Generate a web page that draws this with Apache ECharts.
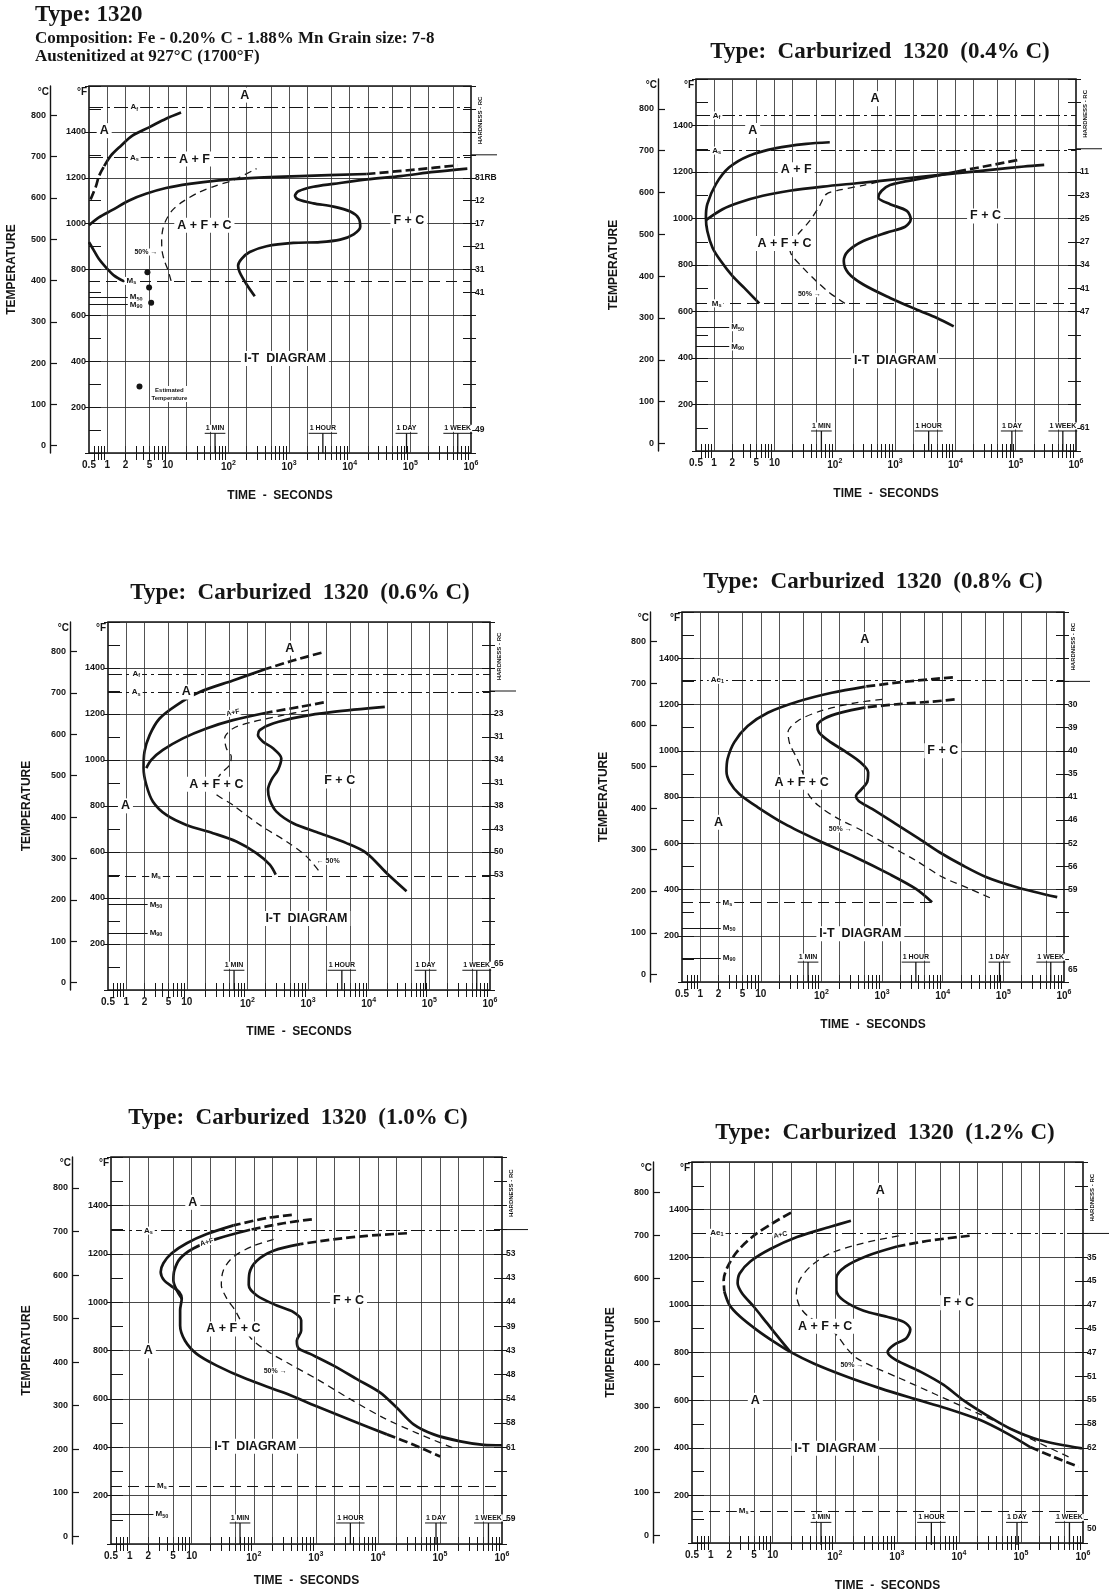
<!DOCTYPE html>
<html>
<head>
<meta charset="utf-8">
<title>Type 1320 I-T diagrams</title>
<script src="https://cdn.jsdelivr.net/npm/echarts@6/dist/echarts.min.js"></script>
<style>
  html, body { margin: 0; padding: 0; background: #fff; }
  #chart { width: 1110px; height: 1593px; }
</style>
</head>
<body>
<div id="chart"></div>
<script>
// ---------- shared axis values ----------
const timeLabelValues = [0.5, 1, 2, 5, 10, 100, 1000, 1e4, 1e5, 1e6];
const timeGridValues = [1, 2, 5, 10, 20, 50, 100, 200, 500, 1000, 2000, 5000, 1e4, 2e4, 5e4, 1e5, 2e5, 5e5];
const celsiusTicks = [0, 100, 200, 300, 400, 500, 600, 700, 800];
const fahrenheitLabels = [200, 400, 600, 800, 1000, 1200, 1400];
const timeMarks = [60, 3600, 86400, 604800];
const timeMarkNames = ['1 MIN', '1 HOUR', '1 DAY', '1 WEEK'];

// ---------- Type 1320 (0.20 % C) ----------  [time s, °C]
const p1Upper = [[0.53,596],[0.65,628],[0.73,653],[0.89,677],[1.14,702],[1.67,726],[2.6,751],[4.9,771],[9.3,792],[16.5,807]];
const p1Start = [[0.5,534],[0.73,553],[1.22,571],[2.3,594],[4.35,610],[9.3,624],[22.7,634],[63,642],[225,648],[1500,653],[19000,658],[130000,669],[600000,679]];
const p1Finish = [[271,362],[198,391],[153,420],[144,436],[163,452],[224,469],[424,483],[1170,491],[3240,493],[6970,499],[11600,512],[14900,530],[14000,551],[10200,567],[5400,579],[2510,587],[1420,596],[1250,605],[1420,616],[2510,627],[5400,634],[19200,645],[68700,653],[245000,663],[870000,671]];
const p1Half = [[11.3,399],[9.9,428],[8.75,448],[8.0,473],[7.9,497],[8.2,522],[9.3,546],[12,571],[17.6,591],[33,614],[63,630],[119,643],[290,671]];
const p1Lower = [[0.5,493],[0.6,473],[0.73,452],[0.95,432],[1.3,412],[1.9,398]];
const p1Crit = [['A_f', 820], ['A_s', 698]];
const p1Ms = 399;
const p1Mpoints = [['M_50', 360], ['M_90', 342]];
const p1HardF = [1200, 1100, 1000, 900, 800, 700, 100];
const p1Hard = ['81RB', '12', '17', '21', '31', '41', '49'];
const p1Regions = [['A',185,849],['A',0.89,763],['A + F',27.5,694],['A + F + C',40,534],['F + C',94500,545],['I-T  DIAGRAM',851,211]];
const p1HalfNote = [4.35, 469];
const p1Estimated = [[4.6,420],[4.9,383],[5.3,346],[3.4,143]];

// ---------- Carburized 1320 (0.4 % C) ----------
const p2Upper = [[82.6,720],[33.7,716],[10.7,706],[3.8,688],[1.78,660],[1.07,620],[0.77,572],[0.73,540],[0.77,508],[0.94,468],[1.29,436],[2.02,400],[3.16,372],[5.6,335]];
const p2Start = [[0.73,534],[1.38,560],[2.61,576],[6.4,592],[17.8,604],[64,614],[230,622],[826,630],[2960,638],[10700,646],[38300,654],[137000,662],[297000,666]];
const p2Finish = [[9380,280],[4945,300],[2297,320],[826,348],[297,380],[167,408],[141,436],[167,460],[297,484],[726,504],[1468,518],[1820,536],[1565,556],[826,572],[527,588],[600,604],[826,618],[2960,634],[10700,650],[38300,665],[113700,678]];
const p2Half = [[147,335],[82.6,360],[49.5,388],[29.7,420],[19,452],[17.8,472],[24.5,500],[38.3,532],[56,568],[72.6,596],[121,606],[297,617],[726,630]];
const p2Crit = [['A_f', 784], ['A_s', 700]];
const p2Ms = 335;
const p2Mpoints = [['M_50', 278], ['M_90', 232]];
const p2HardF = [1200, 1100, 1000, 900, 800, 700, 600, 100];
const p2Hard = ['11', '23', '25', '27', '34', '41', '47', '61'];
const p2Regions = [['A',464,824],['A',4.35,748],['A + F',23,654],['A + F + C',14.7,478],['F + C',31600,544],['I-T  DIAGRAM',1000,198]];
const p2HalfNote = [38, 358];

// ---------- Carburized 1320 (0.6 % C) ----------
const p3Outer = [[1660,797],[565,778],[205,758],[57.7,730],[16.3,702],[6.7,670],[3.55,638],[2.43,598],[2.0,558],[1.93,518],[2.14,478],[2.76,437],[4.58,405],[9.8,381],[27,361],[65.5,341],[140,313],[233,285],[292,261]];
const p3Inner = [[1811,677],[728,666],[205,652],[57.7,634],[21,614],[8.6,590],[4.03,562],[2.59,538],[2.14,518]];
const p3Finish = [[18400,666],[2584,654],[728,642],[263,626],[159,610],[149,598],[180,582],[263,566],[361,542],[319,514],[248,490],[218,466],[233,441],[300,413],[565,385],[1556,361],[4290,337],[9180,313],[19630,265],[42000,221]];
const p3Half = [[998,658],[386,646],[123,630],[57.7,614],[42,590],[44.8,566],[54,546],[50.8,526],[37,506],[30,486],[27,466],[57.7,429],[159,381],[438,341],[937,305],[1660,262]];
const p3Crit = [['A_f', 746], ['A_s', 702]];
const p3Ms = 258;
const p3Mpoints = [['M_50', 189], ['M_90', 120]];
const p3HardF = [1200, 1100, 1000, 900, 800, 700, 600, 500, 115];
const p3Hard = ['23', '31', '34', '31', '38', '43', '50', '53', '65'];
const p3Regions = [['A',498,808],['A',9.8,702],['A',0.97,427],['A + F + C',30.6,479],['F + C',3320,487],['I-T  DIAGRAM',935,155]];
const p3HalfNote = [2140, 293];

// ---------- Carburized 1320 (0.8 % C) ----------
const p4Start = [[14700,714],[6840,710],[1905,702],[531,692],[148,677],[41,656],[13,629],[6.06,597],[3.63,558],[2.82,518],[2.71,488],[3.08,462],[4.4,434],[8.9,402],[24.7,362],[88.7,322],[362,282],[1297,242],[3610,206],[6660,174]];
const p4Finish = [[15700,661],[6840,656],[1905,650],[531,642],[217,630],[114.5,616],[85.3,598],[91,582],[130,562],[246,536],[438,510],[588,486],[565,462],[455,445],[371,429],[411,417],[685,398],[1676,362],[4100,326],[8830,294],[21600,262],[52800,234],[166700,210],[773000,186]];
const p4Half = [[1005,661],[362,653],[100.7,634],[41,610],[28,582],[30,554],[38.6,522],[46.8,494],[54.6,462],[60.4,434],[88.7,406],[191,374],[467,346],[1297,310],[3610,274],[10000,234],[27900,206],[68100,181]];
const p4Crit = [['Ae_1', 708]];
const p4Ms = 173;
const p4Mpoints = [['M_50', 112], ['M_90', 40]];
const p4HardF = [1200, 1100, 1000, 900, 800, 700, 600, 500, 400, 55];
const p4Hard = ['30', '39', '40', '35', '41', '46', '52', '56', '59', '65'];
const p4Regions = [['A',517,805],['A',2.0,366],['A + F + C',46.9,462],['F + C',10000,538],['I-T  DIAGRAM',437,98]];
const p4HalfNote = [204, 350];

// ---------- Carburized 1320 (1.0 % C) ----------
const p5Outer = [[410,738],[162,731],[47,714],[17.5,694],[8.3,673],[4.75,650],[3.49,627],[3.16,607],[3.58,588],[4.75,574],[6.3,561],[6.9,546],[6.5,519],[6.5,484],[7.8,449],[12,419],[25.3,392],[77,361],[301,330],[1175,295],[4055,264],[13970,234],[37600,210],[101000,183]];
const p5Inner = [[862,728],[301,719],[87.3,704],[25.3,683],[10.6,661],[6.5,638],[5.25,611],[5.06,588],[5.73,565],[6.9,546]];
const p5Finish = [[29400,696],[6650,690],[1928,682],[559,671],[208,656],[112,633],[85,604],[83,577],[112,553],[235,530],[436,515],[580,496],[580,472],[494,449],[525,432],[811,419],[1928,392],[4580,361],[10900,330],[20200,295],[37600,257],[79000,234],[213000,218],[506000,210],[1000000,209]];
const p5Half = [[208,682],[98.8,667],[47,642],[32.4,611],[30,577],[36.7,546],[50,519],[87.3,457],[162,426],[385,395],[1038,361],[3580,315],[12340,272],[42600,237],[188000,199]];
const p5Crit = [['A_s', 702]];
const p5Ms = 116;
const p5Mpoints = [['M_50', 51]];
const p5HardF = [1200, 1100, 1000, 900, 800, 700, 600, 500, 400, 105];
const p5Hard = ['53', '43', '44', '39', '43', '48', '54', '58', '61', '59'];
const p5Regions = [['A',10.4,767],['A',2.0,426],['A + F + C',47,476],['F + C',3365,542],['I-T  DIAGRAM',105,207]];
const p5HalfNote = [221, 380];

// ---------- Carburized 1320 (1.2 % C) ----------
const p6Outer = [[19.7,753],[10.4,730],[4.93,699],[2.66,662],[1.88,627],[1.62,596],[1.66,569],[2.02,537],[3.0,510],[5.58,479],[10.4,452],[19.2,428],[45.7,401],[157,370],[542,343],[1866,319],[6420,296],[22100,269],[59500,238],[141000,206],[336000,183],[849000,160]];
const p6Inner = [[182,734],[84.7,720],[24.6,696],[9.15,668],[4.35,639],[2.93,611],[2.72,588],[3.2,565],[4.93,534],[8.1,495],[13.3,456],[19.2,428]];
const p6Finish = [[14900,699],[3460,688],[1005,674],[330,652],[148,627],[106,600],[106,572],[139,548],[292,524],[693,510],[1288,498],[1648,481],[1420,460],[888,444],[711,428],[945,410],[2390,382],[5680,351],[11900,315],[28300,280],[67300,249],[205000,222],[961000,203]];
const p6Half = [[1069,699],[292,682],[84.7,658],[40.3,627],[27.2,596],[24,565],[27.2,534],[37.9,510],[70,488],[108,467],[157,436],[228,413],[423,393],[1137,366],[3920,331],[13500,296],[46500,261],[160000,222],[586000,183]];
const p6Crit = [['Ae_1', 706]];
const p6Ms = 57;
const p6Mpoints = [];
const p6HardF = [1200, 1100, 1000, 900, 800, 700, 600, 500, 400, 60];
const p6Hard = ['35', '45', '47', '45', '47', '51', '55', '58', '62', '50'];
const p6Regions = [['A',542,805],['A + F + C',70,488],['F + C',9900,543],['A',5.24,315],['I-T  DIAGRAM',102,203]];
const p6HalfNote = [189, 397];

// ---------- styling ----------
const INK = '#151515';
const SANS = '"Liberation Sans", Arial, Helvetica, sans-serif';
const SERIF = '"Liberation Serif", "Times New Roman", serif';
const F_MIN = 0, F_MAX = 1600;
const C_MIN = (F_MIN - 32) / 1.8, C_MAX = (F_MAX - 32) / 1.8;

// decade sub-ticks drawn along the top and bottom edges
const timeMinorTicks = [];
for (let d = -1; d <= 5; d++) {
  for (let k = 2; k <= 9; k++) {
    const v = +(k * Math.pow(10, d)).toPrecision(3);
    if (v > 0.5 && v < 1e6) timeMinorTicks.push(v);
  }
}

// layout of each diagram on the page; head/tail = points at either end drawn as a broken line
const panels = [
  { grid: {left: 89, top: 86, width: 382, height: 367}, cOffset: 39, tempGap: 71, timeGap: 37,
    thick: [{d: p1Upper, head: 3}, {d: p1Start, tail: 2}, {d: p1Finish}, {d: p1Lower}], half: p1Half,
    crit: p1Crit, critAt: 2.8, ms: p1Ms, msEnd: 1e6, msAt: 2.5, mPoints: p1Mpoints, mAt: 3.0,
    hardF: p1HardF, hard: p1Hard, regions: p1Regions, halfNote: p1HalfNote, halfText: '50% →', small: [] },
  { grid: {left: 696, top: 79, width: 380, height: 372}, cOffset: 38, tempGap: 76, timeGap: 37,
    title: 'Type:  Carburized  1320  (0.4% C)', titleAt: [880, 52],
    thick: [{d: p2Upper}, {d: p2Start}, {d: p2Finish, tail: 2}], half: p2Half,
    crit: p2Crit, critAt: 1.1, ms: p2Ms, msEnd: 1e6, msAt: 1.1, mPoints: p2Mpoints, mAt: 2.45,
    hardF: p2HardF, hard: p2Hard, regions: p2Regions, halfNote: p2HalfNote, halfText: '50% →', small: [] },
  { grid: {left: 108, top: 622, width: 382, height: 368}, cOffset: 38, tempGap: 75, timeGap: 36,
    title: 'Type:  Carburized  1320  (0.6% C)', titleAt: [300, 593],
    thick: [{d: p3Outer, head: 2}, {d: p3Inner, head: 2}, {d: p3Finish}], half: p3Half,
    crit: p3Crit, critAt: 1.46, ms: p3Ms, msEnd: 1e6, msAt: 3.1, mPoints: p3Mpoints, mAt: 3.1,
    hardF: p3HardF, hard: p3Hard, regions: p3Regions, halfNote: p3HalfNote, halfText: '← 50%',
    small: [['A+F', 57.7, 652, 12]] },
  { grid: {left: 682, top: 612, width: 382, height: 370}, cOffset: 32, tempGap: 72, timeGap: 37,
    title: 'Type:  Carburized  1320  (0.8% C)', titleAt: [873, 582],
    thick: [{d: p4Start, head: 3}, {d: p4Finish, head: 3}], half: p4Half,
    crit: p4Crit, critAt: 1.92, ms: p4Ms, msEnd: 6660, msAt: 2.8, mPoints: p4Mpoints, mAt: 3.0,
    hardF: p4HardF, hard: p4Hard, regions: p4Regions, halfNote: p4HalfNote, halfText: '50% →', small: [] },
  { grid: {left: 111, top: 1157, width: 391, height: 387}, cOffset: 39, tempGap: 78, timeGap: 31,
    title: 'Type:  Carburized  1320  (1.0% C)', titleAt: [298, 1118],
    thick: [{d: p5Outer, head: 2, tail: 2}, {d: p5Inner, head: 2}, {d: p5Finish, head: 3}], half: p5Half,
    crit: p5Crit, critAt: 2.0, ms: p5Ms, msEnd: 1e6, msAt: 3.3, mPoints: p5Mpoints, mAt: 3.3,
    hardF: p5HardF, hard: p5Hard, regions: p5Regions, halfNote: p5HalfNote, halfText: '50% →',
    small: [['A+F', 17.5, 675, 15]] },
  { grid: {left: 692, top: 1162, width: 391, height: 383}, cOffset: 39, tempGap: 75, timeGap: 37,
    title: 'Type:  Carburized  1320  (1.2% C)', titleAt: [885, 1133],
    thick: [{d: p6Outer, head: 6, tail: 2}, {d: p6Inner}, {d: p6Finish, head: 2}], half: p6Half,
    crit: p6Crit, critAt: 1.26, ms: p6Ms, msEnd: 1e6, msAt: 3.4, mPoints: p6Mpoints, mAt: 3.4,
    hardF: p6HardF, hard: p6Hard, regions: p6Regions, halfNote: p6HalfNote, halfText: '50% →',
    small: [['A+C', 13.3, 701, 12]] }
];

function subscripted(s) {
  const k = s.indexOf('_');
  return k < 0 ? '{m|' + s + '}' : '{m|' + s.slice(0, k) + '}{s|' + s.slice(k + 1) + '}';
}
const subRich = {
  m: {fontFamily: SANS, fontWeight: 'bold', fontSize: 8, lineHeight: 8, color: INK},
  s: {fontFamily: SANS, fontWeight: 'bold', fontSize: 5.5, lineHeight: 8, color: INK, padding: [4, 0, 0, 0]}
};
// plain black text, no automatic outline around labels
const noOutline = {textBorderWidth: 0, textBorderColor: 'transparent', textShadowBlur: 0, opacity: 1};

function timeLabel(v) {
  if (v < 100) return '{n|' + v + '}';
  return '{n|10}{p|' + Math.round(Math.log10(v)) + '}';
}

const option = {
  backgroundColor: '#fff',
  animation: false,
  grid: [], xAxis: [], yAxis: [], series: []
};

function textSeries(ax, data, label) {
  return Object.assign({
    type: 'scatter', symbolSize: 0, silent: true, z: 6,
    itemStyle: {opacity: 1, color: INK},
    data: data,
    label: Object.assign({show: true, position: 'inside', color: INK, backgroundColor: '#fff'}, label, noOutline)
  }, ax);
}

panels.forEach((p, i) => {
  option.grid.push(Object.assign({show: true, borderColor: INK, borderWidth: 1.6}, p.grid));

  const xi = option.xAxis.length;
  option.xAxis.push({
    type: 'log', logBase: 10, gridIndex: i, min: 0.5, max: 1e6, position: 'bottom',
    axisLine: {show: false},
    axisTick: {show: true, inside: true, length: 7, customValues: timeMinorTicks, lineStyle: {color: INK, width: 1}},
    axisLabel: {customValues: timeLabelValues, formatter: timeLabel, margin: 7, showMinLabel: true, showMaxLabel: true,
      hideOverlap: false,
      rich: {n: {fontFamily: SANS, fontWeight: 'bold', fontSize: 10, color: INK},
             p: {fontFamily: SANS, fontWeight: 'bold', fontSize: 7, color: INK, padding: [0, 0, 7, 0]}}},
    splitLine: {show: false},
    name: 'TIME  -  SECONDS', nameLocation: 'middle', nameGap: p.timeGap,
    nameTextStyle: {fontFamily: SANS, fontSize: 12, fontWeight: 'bold', color: INK}
  });
  option.xAxis.push({
    type: 'log', logBase: 10, gridIndex: i, min: 0.5, max: 1e6, position: 'top',
    axisLine: {show: false},
    axisTick: {show: true, inside: true, length: 7, customValues: timeMinorTicks, lineStyle: {color: INK, width: 1}},
    axisLabel: {show: false}, splitLine: {show: false}
  });

  // °F scale with the 200 °F grid
  option.yAxis.push({
    type: 'value', gridIndex: i, min: F_MIN, max: F_MAX, interval: 200, position: 'left',
    axisLine: {show: false},
    axisTick: {show: true, length: 4, lineStyle: {color: INK, width: 1}},
    axisLabel: {customValues: fahrenheitLabels, formatter: v => String(v), margin: 3,
                fontFamily: SANS, fontWeight: 'bold', fontSize: 9, color: INK},
    splitLine: {show: true, lineStyle: {color: '#333', width: 0.9}},
    name: '°F', nameLocation: 'end', nameGap: -6,
    nameTextStyle: {fontFamily: SANS, fontWeight: 'bold', fontSize: 10, color: INK, align: 'right', verticalAlign: 'middle', padding: [0, 2, 0, 0]}
  });
  // 100 °F inner ticks, left edge
  option.yAxis.push({
    type: 'value', gridIndex: i, min: F_MIN, max: F_MAX, interval: 100, position: 'left',
    axisLine: {show: false},
    axisTick: {show: true, inside: true, length: 12, lineStyle: {color: INK, width: 1}},
    axisLabel: {show: false}, splitLine: {show: false},
    name: 'TEMPERATURE', nameLocation: 'middle', nameGap: p.tempGap, nameRotate: 90,
    nameTextStyle: {fontFamily: SANS, fontWeight: 'bold', fontSize: 12, color: INK}
  });
  // hardness scale, right edge
  option.yAxis.push({
    type: 'value', gridIndex: i, min: F_MIN, max: F_MAX, interval: 100, position: 'right',
    axisLine: {show: false},
    axisTick: {show: true, length: 5, lineStyle: {color: INK, width: 1}},
    axisLabel: {customValues: p.hardF, margin: 4, fontFamily: SANS, fontWeight: 'bold', fontSize: 8.5, color: INK,
      formatter: v => { const k = p.hardF.indexOf(v); return k < 0 ? '' : p.hard[k]; }},
    splitLine: {show: false}
  });
  option.yAxis.push({
    type: 'value', gridIndex: i, min: F_MIN, max: F_MAX, interval: 100, position: 'right',
    axisLine: {show: false},
    axisTick: {show: true, inside: true, length: 8, lineStyle: {color: INK, width: 1}},
    axisLabel: {show: false}, splitLine: {show: false}
  });
  const yC = option.yAxis.length;
  // °C scale, set out to the left
  option.yAxis.push({
    type: 'value', gridIndex: i, min: C_MIN, max: C_MAX, position: 'left', offset: p.cOffset,
    axisLine: {show: true, lineStyle: {color: INK, width: 1.4}},
    axisTick: {show: true, inside: true, length: 7, customValues: celsiusTicks, lineStyle: {color: INK, width: 1.2}},
    axisLabel: {customValues: celsiusTicks, formatter: v => String(v), margin: 4,
                fontFamily: SANS, fontWeight: 'bold', fontSize: 9, color: INK},
    splitLine: {show: false},
    name: '°C', nameLocation: 'end', nameGap: -6,
    nameTextStyle: {fontFamily: SANS, fontWeight: 'bold', fontSize: 10, color: INK, align: 'right', verticalAlign: 'middle', padding: [0, 1, 0, 0]}
  });

  const ax = {xAxisIndex: xi, yAxisIndex: yC};

  // time grid, critical temperatures, Ms and the short M-point lines
  const guide = timeGridValues.map(t => ({xAxis: t, lineStyle: {color: '#333', width: 0.85, type: 'solid'}}));
  p.crit.forEach(c => guide.push({yAxis: c[1], lineStyle: {color: INK, width: 1.1, type: [14, 4, 3, 4]}}));
  guide.push([{coord: [0.5, p.ms], lineStyle: {color: INK, width: 1.2, type: [11, 6]}}, {coord: [p.msEnd, p.ms]}]);
  p.mPoints.forEach(m => guide.push([{coord: [0.5, m[1]], lineStyle: {color: INK, width: 1.1, type: 'solid'}}, {coord: [p.mAt, m[1]]}]));
  option.series.push(Object.assign({
    type: 'line', data: [], z: 1, silent: true,
    markLine: {silent: true, symbol: ['none', 'none'], label: {show: false}, animation: false, data: guide}
  }, ax));

  // transformation curves: solid body with broken ends where the diagram shows them
  const curveStyle = (dash) => ({color: INK, width: 2.7, cap: 'butt', join: 'round', type: dash ? [9, 4] : 'solid'});
  p.thick.forEach(c => {
    const n = c.d.length, h = c.head || 0, t = c.tail || 0;
    const pieces = [];
    if (h) pieces.push([c.d.slice(0, h + 1), true]);
    pieces.push([c.d.slice(h, n - t), false]);
    if (t) pieces.push([c.d.slice(n - t - 1), true]);
    pieces.forEach(([seg, dash]) => option.series.push(Object.assign({
      type: 'line', data: seg, smooth: 0.3, showSymbol: false, silent: true, z: 4,
      lineStyle: curveStyle(dash)
    }, ax)));
  });
  option.series.push(Object.assign({
    type: 'line', data: p.half, smooth: 0.3, showSymbol: false, silent: true, z: 4,
    lineStyle: {color: INK, width: 1.3, type: [7, 5]}
  }, ax));

  // field names
  option.series.push(textSeries(ax, p.regions.map(r => ({name: r[0], value: [r[1], r[2]]})),
    {formatter: '{b}', fontFamily: SANS, fontWeight: 'bold', fontSize: 12.5, padding: [1, 3]}));
  // critical-point names on their lines
  const tags = p.crit.map(c => ({name: c[0], value: [p.critAt, c[1]]}));
  tags.push({name: 'M_s', value: [p.msAt, p.ms]});
  p.mPoints.forEach(m => tags.push({name: m[0], value: [p.mAt, m[1]]}));
  option.series.push(textSeries(ax, tags, {formatter: d => subscripted(d.name), rich: subRich, padding: [0, 2]}));
  // 50 % note and small slanted field names
  const notes = [{name: p.halfText, value: p.halfNote}];
  p.small.forEach(s => notes.push({name: s[0], value: [s[1], s[2]], label: {rotate: s[3]}}));
  option.series.push(textSeries(ax, notes, {formatter: '{b}', fontFamily: SANS, fontWeight: 'bold', fontSize: 7, padding: [0, 1]}));
  // time landmarks
  option.series.push(textSeries(ax, timeMarks.map((t, k) => ({name: timeMarkNames[k], value: [t, 42]})),
    {formatter: '{b}', fontFamily: SANS, fontWeight: 'bold', fontSize: 7, padding: [0, 1]}));

  if (i === 0) {
    option.series.push(Object.assign({
      type: 'scatter', symbol: 'circle', symbolSize: 6, silent: true, z: 6,
      itemStyle: {color: INK, opacity: 1},
      data: p1Estimated
    }, ax));
    option.series.push(textSeries(ax, [{name: 'Estimated\nTemperature', value: [10.6, 125]}],
      {formatter: '{b}', fontFamily: SANS, fontWeight: 'bold', fontSize: 6, lineHeight: 8, padding: [0, 1]}));
  }
});

const chart = echarts.init(document.getElementById('chart'), null, {renderer: 'canvas'});
chart.setOption(option);

// page titles, hardness captions and landmark underlines placed from the axes
const measure = document.createElement('canvas').getContext('2d');
const graphics = [];
function addText(text, x, y, font) {
  graphics.push({
    type: 'text', x: x, y: y, silent: true, z: 20,
    style: {text: text, font: font, fill: INK, textAlign: 'left', textVerticalAlign: 'middle', align: 'left', verticalAlign: 'middle'}
  });
}
addText('Type: 1320', 35, 15, 'bold 23px ' + SERIF);
addText('Composition: Fe - 0.20% C - 1.88% Mn Grain size: 7-8', 35, 39, 'bold 17px ' + SERIF);
addText('Austenitized at 927°C (1700°F)', 35, 57, 'bold 17px ' + SERIF);

panels.forEach((p, i) => {
  if (p.title) {
    graphics.push({
      type: 'text', x: p.titleAt[0], y: p.titleAt[1], silent: true, z: 20,
      style: {text: p.title, font: 'bold 23px ' + SERIF, fill: INK,
              textAlign: 'center', align: 'center', textVerticalAlign: 'middle', verticalAlign: 'middle'}
    });
  }
  const xi = 2 * i, yF = 5 * i, yC = 5 * i + 4;
  const right = p.grid.left + p.grid.width;
  const bottom = p.grid.top + p.grid.height;
  const y1300 = chart.convertToPixel({xAxisIndex: xi, yAxisIndex: yF}, [1e6, 1300])[1];
  graphics.push({type: 'line', silent: true, z: 20,
    shape: {x1: right, y1: y1300, x2: right + 26, y2: y1300}, style: {stroke: INK, lineWidth: 1}});
  graphics.push({
    type: 'text', x: right + 9, y: (p.grid.top + y1300) / 2, rotation: Math.PI / 2, silent: true, z: 20,
    style: {text: 'HARDNESS - RC', font: 'bold 6px ' + SANS, fill: INK,
            textAlign: 'center', align: 'center', textVerticalAlign: 'middle', verticalAlign: 'middle'}
  });
  measure.font = 'bold 7px ' + SANS;
  timeMarks.forEach((t, k) => {
    const pt = chart.convertToPixel({xAxisIndex: xi, yAxisIndex: yC}, [t, 42]);
    const w = measure.measureText(timeMarkNames[k]).width + 2;
    const yu = pt[1] + 5;
    graphics.push({type: 'line', silent: true, z: 20,
      shape: {x1: pt[0] - w / 2, y1: yu, x2: pt[0] + w / 2, y2: yu}, style: {stroke: INK, lineWidth: 1}});
    graphics.push({type: 'line', silent: true, z: 20,
      shape: {x1: pt[0], y1: yu, x2: pt[0], y2: bottom}, style: {stroke: INK, lineWidth: 1.3}});
  });
});
chart.setOption({graphic: graphics});
</script>
</body>
</html>
